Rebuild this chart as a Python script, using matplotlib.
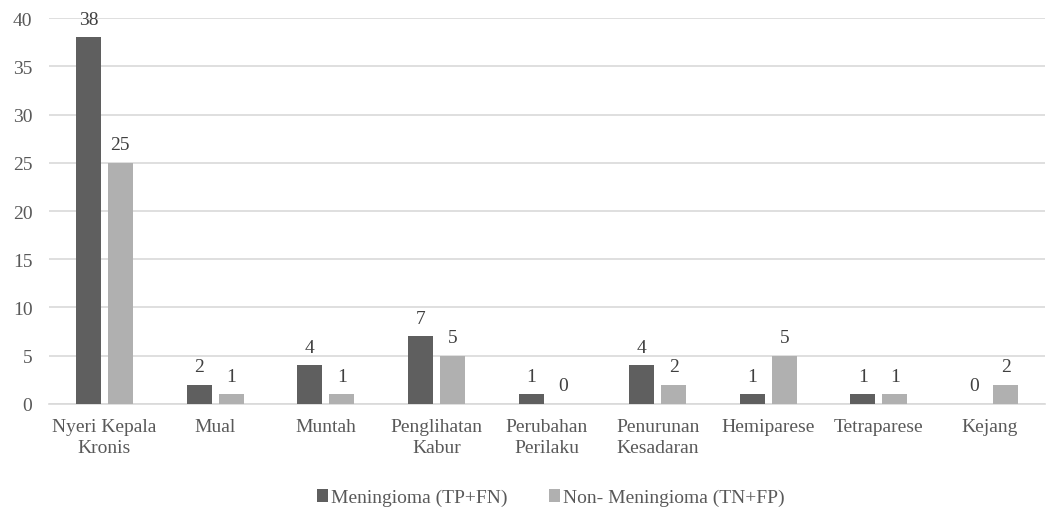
import matplotlib
matplotlib.use("Agg")
import matplotlib.pyplot as plt
import numpy as np

categories = ["Nyeri Kepala\nKronis", "Mual", "Muntah", "Penglihatan\nKabur",
              "Perubahan\nPerilaku", "Penurunan\nKesadaran", "Hemiparese",
              "Tetraparese", "Kejang"]
meningioma = [38, 2, 4, 7, 1, 4, 1, 1, 0]
non_meningioma = [25, 1, 1, 5, 0, 2, 5, 1, 2]
series_names = ["Meningioma (TP+FN)", "Non- Meningioma (TN+FP)"]
yticks = [0, 5, 10, 15, 20, 25, 30, 35, 40]

plt.rcParams['font.family'] = ['Liberation Serif', 'DejaVu Serif']
text_color = "#595959"
dark = "#5f5f5f"
light = "#b0b0b0"
fs = 14

fig = plt.figure(figsize=(10.57, 5.10), dpi=100)
ax = fig.add_axes([0.0464, 0.2059, 0.9422, 0.7568])

x = np.arange(len(categories))
w = 0.226
gap = 0.063
b1 = ax.bar(x - (w + gap) / 2, meningioma, w, color=dark, label=series_names[0], zorder=3)
b2 = ax.bar(x + (w + gap) / 2, non_meningioma, w, color=light, label=series_names[1], zorder=3)

for bars, vals in ((b1, meningioma), (b2, non_meningioma)):
    for rect, v in zip(bars, vals):
        ax.annotate(str(v), (rect.get_x() + rect.get_width() / 2, v),
                    xytext=(0, 7), textcoords="offset points",
                    ha="center", va="bottom", fontsize=fs, color="#404040")

ax.set_xlim(-0.5, len(categories) - 0.5)
ax.set_ylim(0, 40)
ax.set_yticks(yticks)
ax.yaxis.grid(True, color="#d9d9d9", linewidth=1.2, zorder=0)
ax.set_axisbelow(True)
for s in ["top", "right", "left"]:
    ax.spines[s].set_visible(False)
ax.spines["bottom"].set_color("#d9d9d9")
ax.spines["bottom"].set_linewidth(1.2)
ax.tick_params(axis="both", length=0, labelsize=fs, colors=text_color)
ax.tick_params(axis="y", pad=12)
ax.tick_params(axis="x", pad=10)
ax.set_xticks(x)
ax.set_xticklabels(categories, linespacing=1.3)

leg = fig.legend(handles=[b1, b2], labels=series_names, loc="center",
                 bbox_to_anchor=(0.521, 0.022), ncol=2, frameon=False,
                 fontsize=fs, handlelength=0.6, handleheight=0.6,
                 handletextpad=0.15, columnspacing=2.1)
for t in leg.get_texts():
    t.set_color(text_color)

fig.savefig("out.png", dpi=100)
